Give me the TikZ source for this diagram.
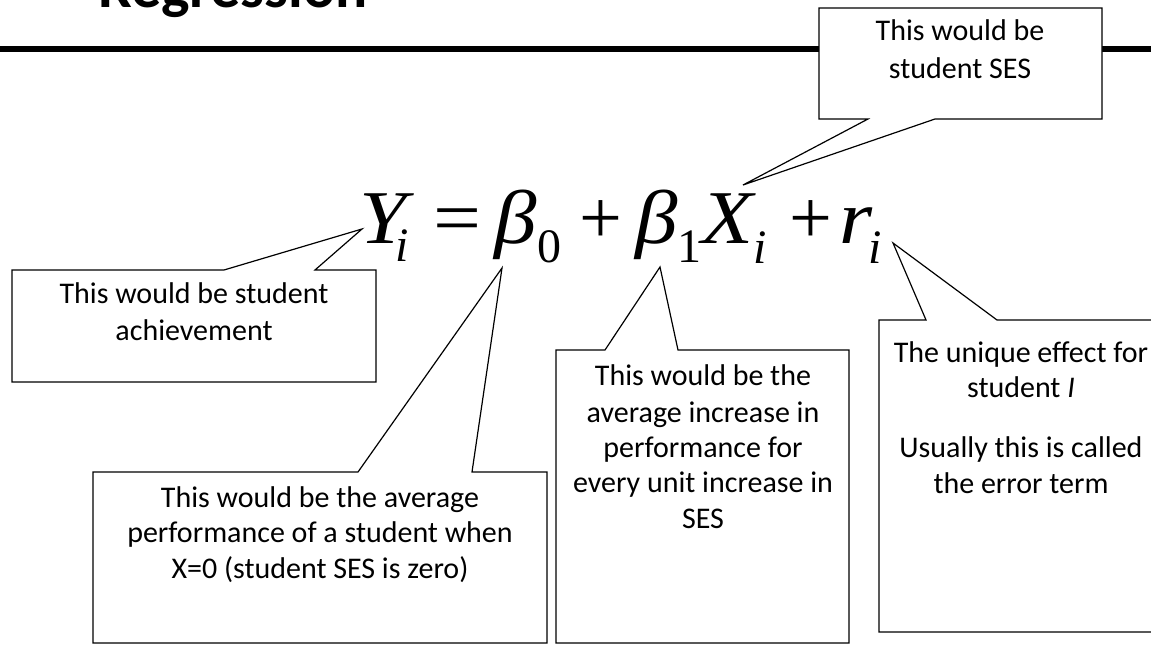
\documentclass[tikz,border=0pt]{standalone}
\usepackage{fontspec}
\usepackage{graphicx}
\setmainfont{Carlito}
\newfontfamily\eqfont{Liberation Serif}
\newcommand\wideglyph[1]{\scalebox{1.12}[1]{#1}}
\tikzset{
  callout/.style={draw=black, fill=white, line width=1.2pt, line join=miter},
  txt/.style={anchor=base, inner sep=0pt, font=\fontsize{30}{36}\selectfont},
  titletxt/.style={anchor=base west, inner sep=0pt, font=\bfseries\fontsize{60}{62}\selectfont},
  eqbig/.style={anchor=base, inner sep=0pt, font=\eqfont\fontsize{76}{80}\selectfont},
  eqsmall/.style={anchor=base, inner sep=0pt, font=\eqfont\fontsize{48}{50}\selectfont},
}
\begin{document}
\begin{tikzpicture}[x=1pt,y=-1pt]
\useasboundingbox (0,0) rectangle (1151,645);
% title and rule
\node[titletxt] (title) at (98,8) {Regression};
\coordinate (rl) at (0,49);
\coordinate (rr) at (1151,49);
\draw[line width=6pt] (rl) -- (rr);
% equation, glyph by glyph
\node[eqbig]   (eqY)  at (387,243) {\wideglyph{\textit{Y}}};
\node[eqsmall] (eqYi) at (402,261) {\textit{i}};
\node[eqbig]   (eqeq) at (457,243) {\wideglyph{=}};
\node[eqbig]   (eqb0) at (516,243) {\wideglyph{\textit{β}}};
\node[eqsmall] (eq0)  at (549,262) {0};
\node[eqbig]   (eqp1) at (601,243) {+};
\node[eqbig]   (eqb1) at (657,243) {\wideglyph{\textit{β}}};
\node[eqsmall] (eq1)  at (689,262) {1};
\node[eqbig]   (eqX)  at (729,243) {\wideglyph{\textit{X}}};
\node[eqsmall] (eqXi) at (760,263) {\textit{i}};
\node[eqbig]   (eqp2) at (811,243) {+};
\node[eqbig]   (eqr)  at (856,243) {\wideglyph{\textit{r}}};
\node[eqsmall] (eqri) at (875,263) {\textit{i}};
% tips
\coordinate (tipY) at (362,229);
\coordinate (tipB0) at (502,268);
\coordinate (tipB1) at (660,267);
\coordinate (tipX) at (743,185);
\coordinate (tipR) at (893,243);
% callout: student SES
\draw[callout] (819,8) -- (1102,8) -- (1102,119) -- (935,119) -- (tipX) -- (868,119) -- (819,119) -- cycle;
\node[txt] (ses1) at (960,40) {This would be};
\node[txt] (ses2) at (960,78) {student SES};
% callout: achievement
\draw[callout] (12,270) -- (224,270) -- (tipY) -- (315,270) -- (376,270) -- (376,382) -- (12,382) -- cycle;
\node[txt] (ach1) at (194,303) {This would be student};
\node[txt] (ach2) at (194,340) {achievement};
% callout: beta0
\draw[callout] (93,472) -- (358,472) -- (tipB0) -- (472,472) -- (547,472) -- (547,643) -- (93,643) -- cycle;
\node[txt] (b01) at (320,507) {This would be the average};
\node[txt] (b02) at (320,542) {performance of a student when};
\node[txt] (b03) at (320,578) {X=0 (student SES is zero)};
% callout: beta1
\draw[callout] (556,350) -- (605,350) -- (tipB1) -- (678,350) -- (849,350) -- (849,643) -- (556,643) -- cycle;
\node[txt] (b11) at (703,385) {This would be the};
\node[txt] (b12) at (703,422) {average increase in};
\node[txt] (b13) at (703,457) {performance for};
\node[txt] (b14) at (703,492) {every unit increase in};
\node[txt] (b15) at (703,528) {SES};
% callout: error term
\draw[callout] (879,320) -- (926,320) -- (tipR) -- (997,320) -- (1165,320) -- (1165,632) -- (879,632) -- cycle;
\node[txt] (r1) at (1021,362) {The unique effect for};
\node[txt] (r2) at (1021,397) {student \textit{I}};
\node[txt] (r3) at (1021,457) {Usually this is called};
\node[txt] (r4) at (1021,493) {the error term};
\end{tikzpicture}
\end{document}
